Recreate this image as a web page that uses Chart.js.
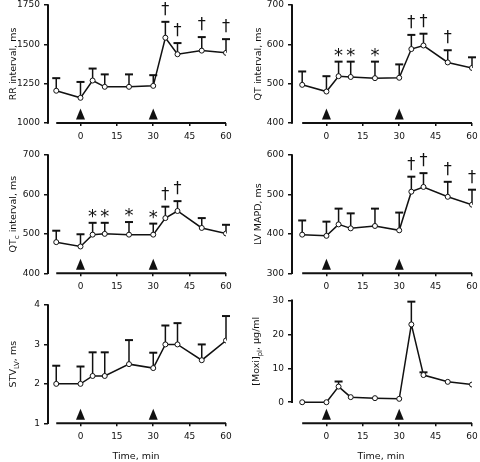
<!DOCTYPE html>
<html>
<head>
<meta charset="utf-8">
<title>Moxifloxacin time course</title>
<script src="https://cdn.jsdelivr.net/npm/chart.js@4.4.1/dist/chart.umd.min.js"></script>
<style>
  body { margin: 0; background: #fff; }
  #wrap { position: relative; width: 480px; height: 462px; background: #fff; overflow: hidden; }
  #wrap canvas { position: absolute; }
</style>
</head>
<body>
<div id="wrap">
  <canvas id="rr" width="240" height="150" style="left:0;top:0;width:240px;height:150px"></canvas>
  <canvas id="qt" width="240" height="150" style="left:240px;top:0;width:240px;height:150px"></canvas>
  <canvas id="qtc" width="240" height="150" style="left:0;top:150px;width:240px;height:150px"></canvas>
  <canvas id="mapd" width="240" height="150" style="left:240px;top:150px;width:240px;height:150px"></canvas>
  <canvas id="stv" width="240" height="162" style="left:0;top:300px;width:240px;height:162px"></canvas>
  <canvas id="moxi" width="240" height="177" style="left:240px;top:285px;width:240px;height:177px"></canvas>
</div>
<script>
// time points (min) and drug infusions
const time = [-10, 0, 5, 10, 20, 30, 35, 40, 50, 60];
const xTicks = [0, 15, 30, 45, 60];
const doses = [0, 30];

// RR interval
const rr = [1205, 1160, 1270, 1230, 1230, 1236, 1542, 1437, 1460, 1446];
const rrErr = [80, 101, 76, 79, 79, 68, 101, 71, 86, 87];
const rrSig = ['', '', '', '', '', '', '†', '†', '†', '†'];
const rrTicks = [1000, 1250, 1500, 1750];

// QT interval
const qt = [497, 480, 519, 517, 514, 515, 588, 597, 554, 540];
const qtErr = [34, 39, 37, 39, 42, 34, 36, 30, 31, 27];
const qtSig = ['', '', '*', '*', '*', '', '†', '†', '†', ''];
const qtTicks = [400, 500, 600, 700];

// QTc interval
const qtc = [479, 468, 498, 500, 498, 498, 540, 558, 515, 501];
const qtcErr = [29, 31, 30, 28, 32, 28, 29, 25, 25, 22];
const qtcSig = ['', '', '*', '*', '*', '*', '†', '†', '', ''];
const qtcTicks = [400, 500, 600, 700];

// LV MAPD
const mapd = [398, 395, 424, 414, 420, 409, 507, 519, 494, 474];
const mapdErr = [36, 36, 40, 38, 44, 45, 38, 35, 38, 38];
const mapdSig = ['', '', '', '', '', '', '†', '†', '†', '†'];
const mapdTicks = [300, 400, 500, 600];

// STV LV
const stv = [2.0, 2.0, 2.2, 2.2, 2.5, 2.4, 3.0, 3.0, 2.6, 3.1];
const stvErr = [0.46, 0.44, 0.6, 0.6, 0.61, 0.39, 0.48, 0.54, 0.4, 0.62];
const stvSig = ['', '', '', '', '', '', '', '', '', ''];
const stvTicks = [1, 2, 3, 4];

// plasma moxifloxacin
const moxi = [0, 0, 4.6, 1.5, 1.2, 1.0, 22.9, 8.0, 6.0, 5.2];
const moxiErr = [0, 0, 1.5, 0, 0, 0, 6.7, 0.8, 0, 0];
const moxiSig = ['', '', '', '', '', '', '', '', '', ''];
const moxiTicks = [0, 10, 20, 30];

const INK = '#111';
const FONT = '"DejaVu Sans", Verdana, sans-serif';

// layout of each panel (canvas-relative pixels)
const panels = {
  rr:   { title: [['RR interval, ms']], mean: rr, err: rrErr, sig: rrSig, yTicks: rrTicks, yMin: 1000, yMax: 1750,
          axisW: 48, padTop: 5, padRight: 14, xMin: -13.4, xH: 27, titleX: 14 },
  qt:   { title: [['QT interval, ms']], mean: qt, err: qtErr, sig: qtSig, yTicks: qtTicks, yMin: 400, yMax: 700,
          axisW: 52, padTop: 5, padRight: 8, xMin: -14.2, xH: 27, titleX: 19 },
  qtc:  { title: [['QT'], ['c', true], [' interval, ms']], mean: qtc, err: qtcErr, sig: qtcSig, yTicks: qtcTicks, yMin: 400, yMax: 700,
          axisW: 48, padTop: 5, padRight: 14, xMin: -13.4, xH: 26.7, titleX: 14 },
  mapd: { title: [['LV MAPD, ms']], mean: mapd, err: mapdErr, sig: mapdSig, yTicks: mapdTicks, yMin: 300, yMax: 600,
          axisW: 52, padTop: 5, padRight: 8, xMin: -14.2, xH: 26.7, titleX: 19 },
  stv:  { title: [['STV'], ['LV', true], [', ms']], mean: stv, err: stvErr, sig: stvSig, yTicks: stvTicks, yMin: 1, yMax: 4,
          axisW: 48, padTop: 5, padRight: 14, xMin: -13.4, xH: 38.7, titleX: 14, timeTitle: true },
  moxi: { title: [['[Moxi]'], ['pl', true], [', µg/ml']], mean: moxi, err: moxiErr, sig: moxiSig, yTicks: moxiTicks, yMin: -6.2, yMax: 30,
          axisW: 52, padTop: 15.3, padRight: 8, xMin: -14.2, xH: 38.7, titleX: 17, timeTitle: true }
};

const decorations = {
  id: 'decorations',
  beforeDatasetsDraw(chart) {
    const p = panels[chart.canvas.id];
    const { ctx, chartArea: a, scales: { x, y } } = chart;
    ctx.save();
    ctx.strokeStyle = INK;
    ctx.fillStyle = INK;

    // axis lines: y only over its tick range, x only over the sampled time
    ctx.lineWidth = 2;
    ctx.beginPath();
    ctx.moveTo(a.left, y.getPixelForValue(p.yTicks[0]) + 0.75);
    ctx.lineTo(a.left, y.getPixelForValue(p.yTicks[p.yTicks.length - 1]) - 0.75);
    ctx.moveTo(x.getPixelForValue(time[0]), a.bottom);
    ctx.lineTo(x.getPixelForValue(time[time.length - 1]), a.bottom);
    ctx.stroke();

    // upper error bars
    time.forEach((t, i) => {
      if (!p.err[i]) return;
      const px = x.getPixelForValue(t);
      const y0 = y.getPixelForValue(p.mean[i]);
      const y1 = y.getPixelForValue(p.mean[i] + p.err[i]);
      ctx.lineWidth = 1.5;
      ctx.beginPath();
      ctx.moveTo(px, y0);
      ctx.lineTo(px, y1);
      ctx.stroke();
      ctx.lineWidth = 2;
      ctx.beginPath();
      ctx.moveTo(px - 4, y1);
      ctx.lineTo(px + 4, y1);
      ctx.stroke();
    });

    // infusion arrowheads
    doses.forEach(d => {
      const px = x.getPixelForValue(d);
      ctx.beginPath();
      ctx.moveTo(px - 4.5, a.bottom - 3.5);
      ctx.lineTo(px + 4.5, a.bottom - 3.5);
      ctx.lineTo(px, a.bottom - 14.5);
      ctx.closePath();
      ctx.fill();
    });
    ctx.restore();
  },
  afterDatasetsDraw(chart) {
    const p = panels[chart.canvas.id];
    const { ctx, chartArea: a, scales: { x, y } } = chart;
    ctx.save();
    ctx.fillStyle = INK;

    // significance marks above the error bars
    ctx.textAlign = 'center';
    ctx.textBaseline = 'alphabetic';
    p.sig.forEach((s, i) => {
      if (!s) return;
      const dagger = s === '†';
      ctx.font = (dagger ? '16px ' : '18px ') + FONT;
      const m = ctx.measureText(s);
      const top = y.getPixelForValue(p.mean[i] + p.err[i]);
      const gap = dagger ? 6 : 5;
      ctx.fillText(s, x.getPixelForValue(time[i]), top - gap - m.actualBoundingBoxDescent);
    });

    // y title with subscripts, centred on the drawn y axis
    const big = '9.5px ' + FONT, small = '7px ' + FONT;
    const yc = (y.getPixelForValue(p.yTicks[0]) + y.getPixelForValue(p.yTicks[p.yTicks.length - 1])) / 2;
    ctx.translate(p.titleX, yc);
    ctx.rotate(-Math.PI / 2);
    ctx.textAlign = 'left';
    ctx.textBaseline = 'middle';
    let w = 0;
    p.title.forEach(([t, sub]) => { ctx.font = sub ? small : big; w += ctx.measureText(t).width; });
    let cx = -w / 2;
    p.title.forEach(([t, sub]) => {
      ctx.font = sub ? small : big;
      ctx.fillText(t, cx, sub ? 3 : 0);
      cx += ctx.measureText(t).width;
    });
    ctx.restore();

    if (p.timeTitle) {
      ctx.save();
      ctx.fillStyle = INK;
      ctx.font = big;
      ctx.textAlign = 'center';
      ctx.textBaseline = 'middle';
      ctx.fillText('Time, min', (a.left + a.right) / 2 - 1, a.bottom + 33);
      ctx.restore();
    }
  }
};

function makeChart(id) {
  const p = panels[id];
  new Chart(document.getElementById(id), {
    type: 'line',
    data: {
      datasets: [{
        data: time.map((t, i) => ({ x: t, y: p.mean[i] })),
        borderColor: INK,
        borderWidth: 1.5,
        tension: 0,
        pointRadius: 2.5,
        pointBorderWidth: 1,
        pointBackgroundColor: '#fff',
        pointBorderColor: INK
      }]
    },
    options: {
      responsive: false,
      animation: false,
      devicePixelRatio: 1,
      layout: { padding: { top: p.padTop, right: p.padRight, left: 0, bottom: 0 } },
      plugins: { legend: { display: false }, tooltip: { enabled: false } },
      scales: {
        x: {
          type: 'linear',
          min: p.xMin,
          max: 60,
          border: { display: false },
          grid: { drawOnChartArea: false, tickLength: 3, color: INK, lineWidth: 1.5 },
          ticks: { font: { family: FONT, size: 9 }, color: INK, padding: 5, maxRotation: 0, autoSkip: false,
                   callback: v => String(v) },
          afterBuildTicks: s => { s.ticks = xTicks.map(v => ({ value: v })); },
          afterFit: s => { s.height = p.xH; s.paddingLeft = 0; s.paddingRight = 0; }
        },
        y: {
          min: p.yMin,
          max: p.yMax,
          border: { display: false },
          grid: { drawOnChartArea: false, tickLength: 4, color: INK, lineWidth: 1.5 },
          ticks: { font: { family: FONT, size: 9 }, color: INK, padding: 4, autoSkip: false,
                   callback: v => String(v) },
          afterBuildTicks: s => { s.ticks = p.yTicks.map(v => ({ value: v })); },
          afterFit: s => { s.width = p.axisW; s.paddingTop = 0; s.paddingBottom = 0; }
        }
      }
    },
    plugins: [decorations]
  });
}

['rr', 'qt', 'qtc', 'mapd', 'stv', 'moxi'].forEach(makeChart);
</script>
</body>
</html>
